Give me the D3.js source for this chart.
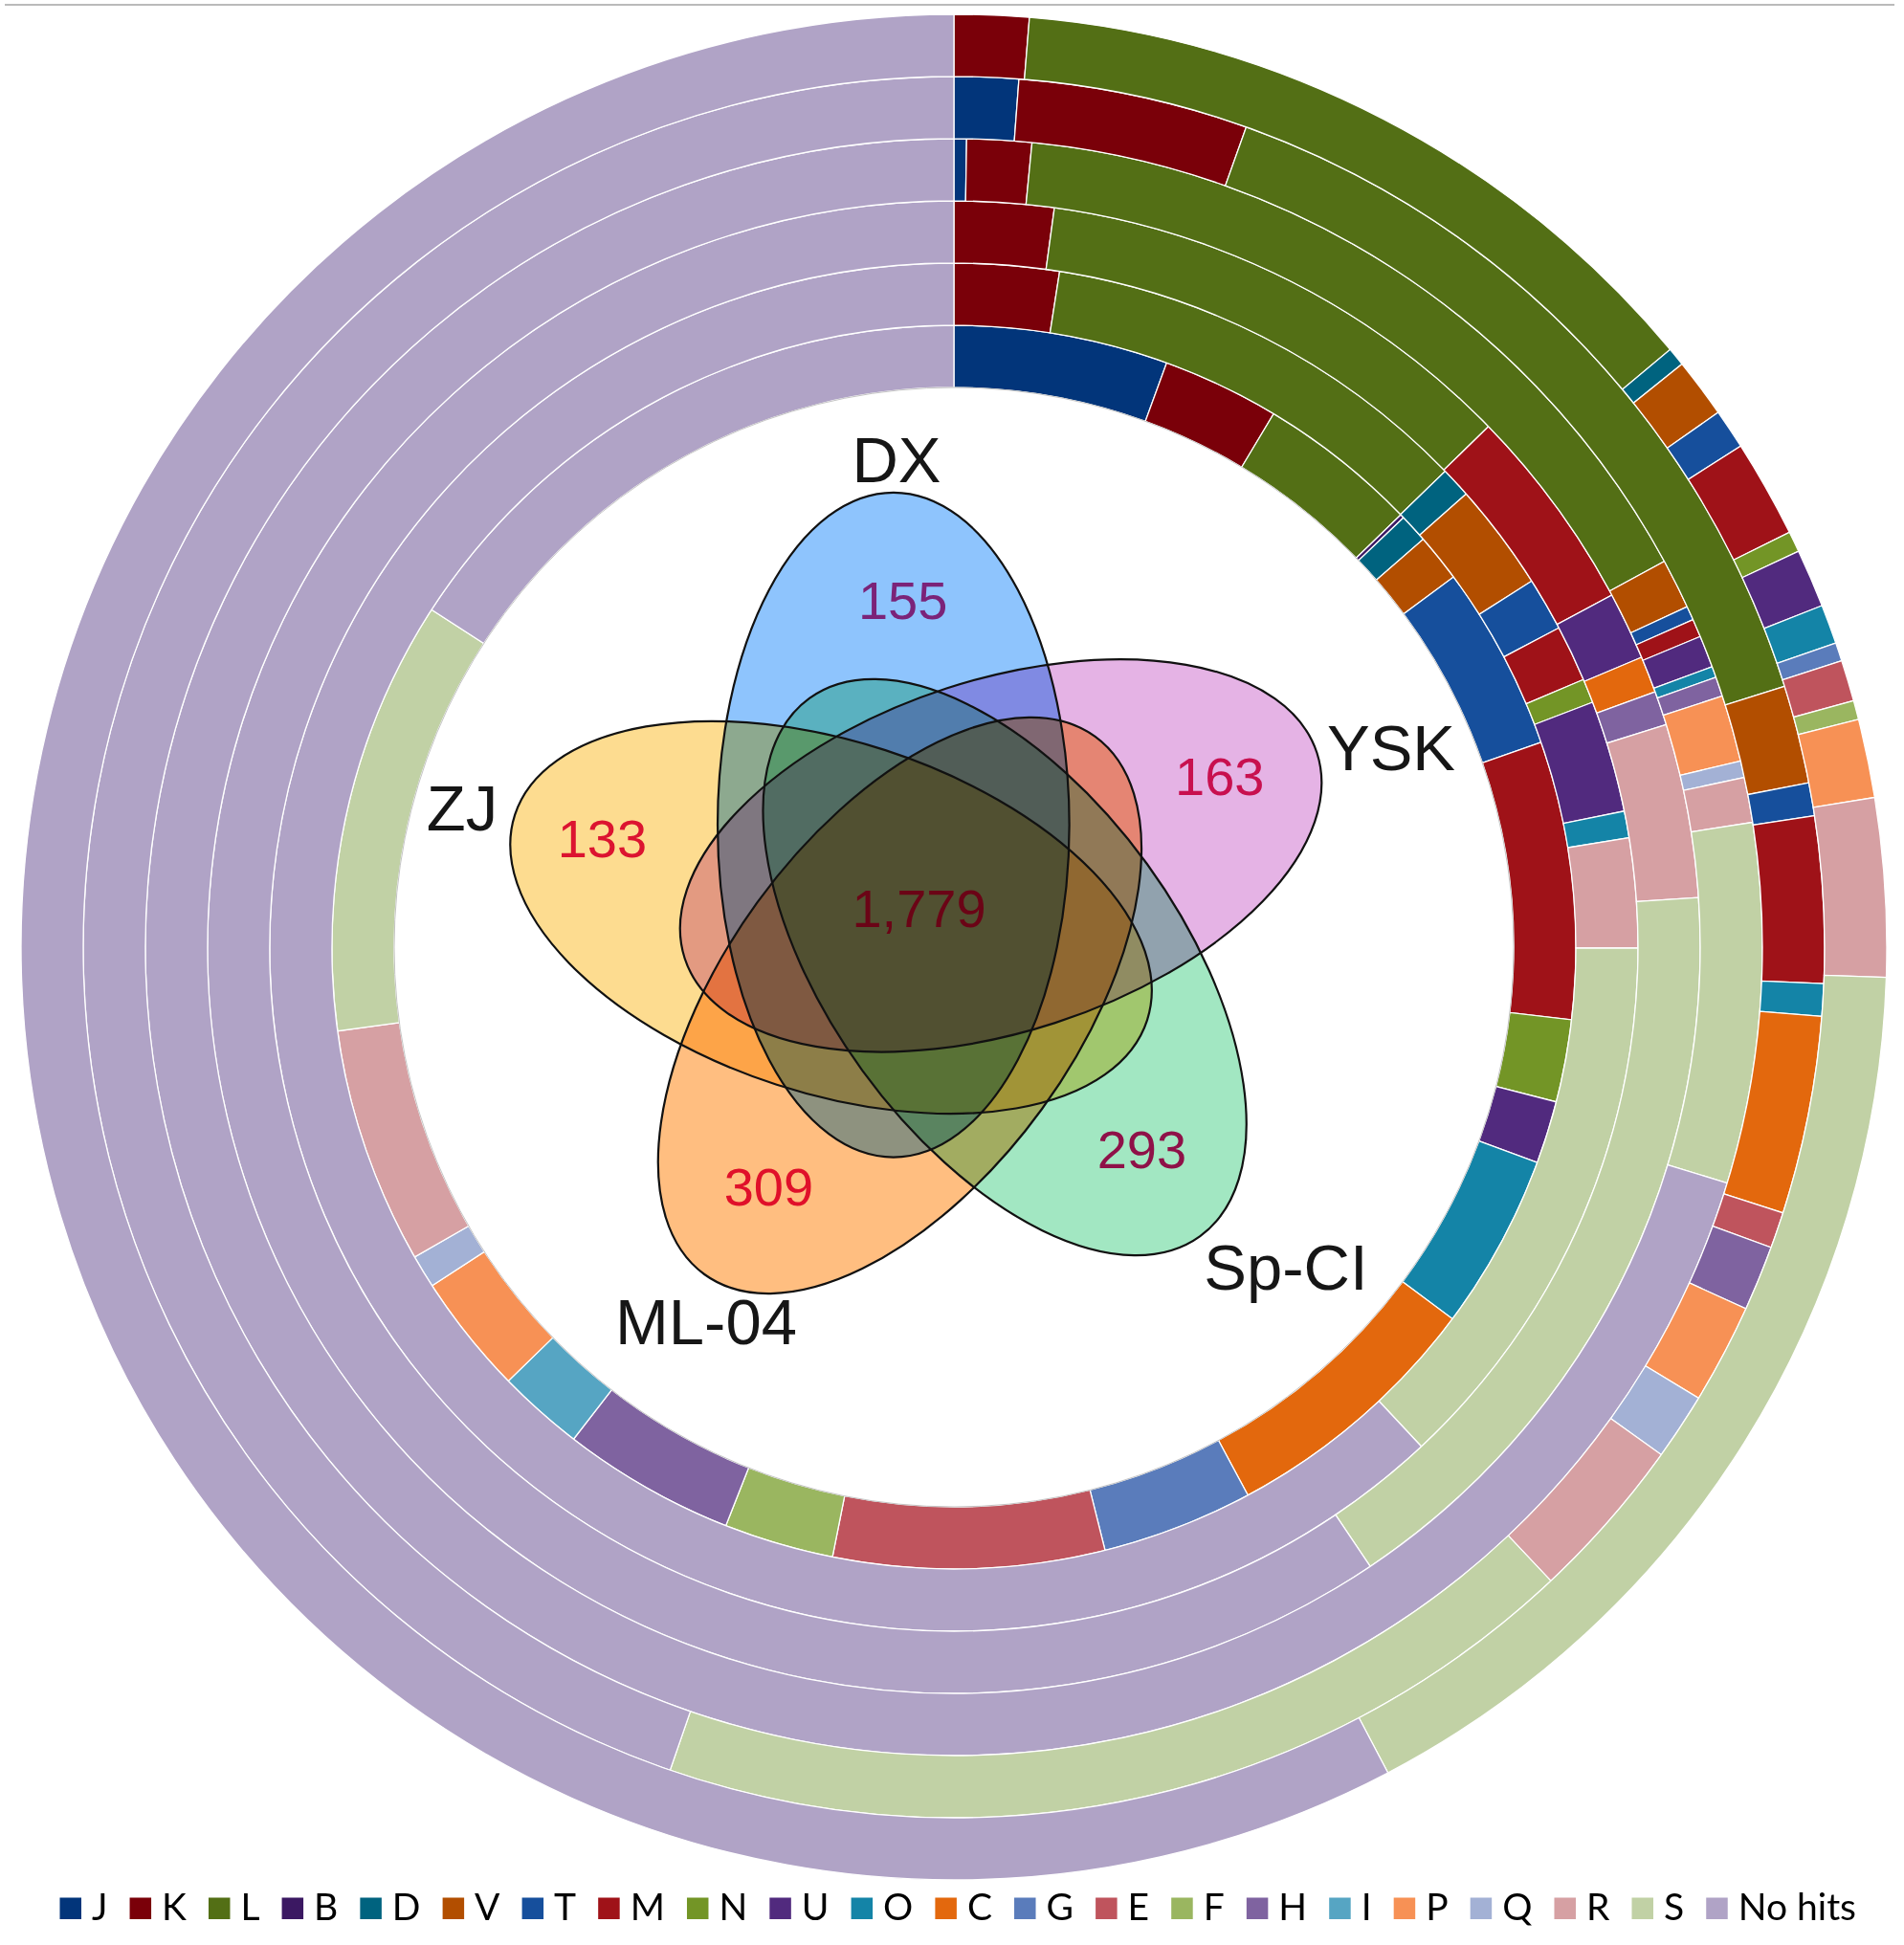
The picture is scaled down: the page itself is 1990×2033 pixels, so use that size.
<!DOCTYPE html>
<html>
<head>
<meta charset="utf-8">
<script src="https://cdn.jsdelivr.net/npm/d3@7"></script>
<style>
  body { margin: 0; background: #fff; }
  svg { display: block; }
</style>
</head>
<body>
<script>
// COG classes, in legend order
const categories = ["J","K","L","B","D","V","T","M","N","U","O","C","G","E","F","H","I","P","Q","R","S","No hits"];
const palette = ["#02357a","#7a0009","#536f15","#3b1862","#00637f","#b24e00","#164f9c","#9f1218",
                 "#739526","#512a7e","#1484a7","#e3680d","#5a7cbb","#bf545d","#9ab660","#7f63a0",
                 "#56a5c3","#f79155","#a3b1d5","#d6a0a3","#c1d1a5","#b0a3c6"];

// share of genes (%) per class, one array per ring, inner ring first
const ring1 = [5.56,3.04,4.17,0.10,0.75,1.24,4.81,7.21,2.14,1.63,4.57,6.97,3.93,7.04,2.85,4.50,2.24,3.13,0.86,6.15,11.29,15.88];
const ring2 = [0,2.47,10.28,0,0.72,2.54,1.26,1.33,0.57,2.64,0.63,0,0,0,0,0,0,0,0,2.58,13.00,61.97];
const ring3 = [0,2.15,10.56,0,0,0,0,4.47,0,1.47,0,0.79,0,0,0,0.74,0,0,0,3.76,16.64,59.42];
const ring4 = [0.25,1.29,15.54,0,0,1.00,0.28,0.36,0,0.64,0.22,0,0,0,0,0.39,0,1.33,0.33,0.90,7.18,70.28];
const ring5 = [1.19,4.26,14.71,0,0,1.82,0.61,3.08,0,0,0.60,3.67,0,0.67,0,1.21,0,1.85,1.24,3.07,17.31,44.72];
const ring6 = [0,1.29,12.64,0,0.32,1.03,0.69,1.69,0.36,1.01,0.68,0,0.32,0.71,0.33,0,0,1.36,0,3.08,16.78,57.69];
const rings = [ring1, ring2, ring3, ring4, ring5, ring6];

// Venn sets, clockwise from the top
const sets = ["DX","YSK","Sp-CI","ML-04","ZJ"];
const setColors = ["#8ec4fd","#e5b3e5","#a2e7c2","#ffbe80","#fddc90"];
const uniqueCounts = [155,163,293,309,133];
const uniqueColors = ["#7b2378","#c8104f","#8f1148","#e0102a","#dc1430"];
const coreCount = 1779;

const W = 1990, H = 2033;
const cx = 997, cy = 990;

const svg = d3.select("body").append("svg")
  .attr("width", W).attr("height", H);

// thin rule at the very top
svg.append("line")
  .attr("x1", 5).attr("x2", 1980).attr("y1", 5).attr("y2", 5)
  .attr("stroke", "#a3a3a3").attr("stroke-width", 1.5);

const color = d3.scaleOrdinal().domain(categories).range(palette);
const rScale = d3.scaleLinear().domain([0, rings.length]).range([585, 975]);
const pie = d3.pie().sort(null).value(d => d.v);

// rings
const donut = svg.append("g").attr("transform", `translate(${cx},${cy})`);
rings.forEach((vals, i) => {
  let arc = d3.arc().innerRadius(rScale(i)).outerRadius(rScale(i + 1));
  let data = pie(categories.map((c, j) => ({c: c, v: vals[j]})).filter(d => d.v > 0));
  donut.append("g").attr("class", "ring")
    .selectAll("path").data(data).join("path")
    .attr("d", arc)
    .attr("fill", d => color(d.data.c))
    .attr("stroke", "#fff")
    .attr("stroke-width", 1.3);
});
// faint edge on the inside of the first ring
donut.append("circle")
  .attr("r", rScale(0))
  .attr("fill", "none")
  .attr("stroke", "#c4c4c4")
  .attr("stroke-width", 1);

// Venn diagram: five rotated ellipses
const venn = {x: 967.8, y: 955.5, dist: 99.3, a: 347.4, b: 183.8};
const ellipses = sets.map((s, i) => {
  let t = (-20 + 72 * i) * Math.PI / 180;
  return {
    name: s,
    x: venn.x + venn.dist * Math.sin(t),
    y: venn.y - venn.dist * Math.cos(t),
    rot: 72 * i,
    fill: setColors[i]
  };
});

const vg = svg.append("g").style("isolation", "isolate");
vg.selectAll("ellipse.fill").data(ellipses).join("ellipse")
  .attr("class", "fill")
  .attr("cx", d => d.x).attr("cy", d => d.y)
  .attr("rx", venn.b).attr("ry", venn.a)
  .attr("transform", d => `rotate(${d.rot},${d.x},${d.y})`)
  .style("fill", d => d.fill)
  .style("mix-blend-mode", "multiply");

svg.selectAll("ellipse.edge").data(ellipses).join("ellipse")
  .attr("class", "edge")
  .attr("cx", d => d.x).attr("cy", d => d.y)
  .attr("rx", venn.b).attr("ry", venn.a)
  .attr("transform", d => `rotate(${d.rot},${d.x},${d.y})`)
  .style("fill", "none")
  .style("stroke", "#111")
  .style("stroke-width", 2.2);

// label placement
const countPos = [[943.7, 627], [1274.8, 811], [1193.4, 1201], [803.4, 1240.4], [629.4, 875.6]];
const corePos = [960.5, 948.6];
const namePos = [[937, 504], [1454, 805], [1344, 1348], [738, 1405], [483, 868]];

const font = "'Liberation Sans', Arial, sans-serif";
svg.selectAll("text.count").data(uniqueCounts).join("text")
  .attr("class", "count")
  .attr("x", (d, i) => countPos[i][0])
  .attr("y", (d, i) => countPos[i][1] + 20)
  .attr("text-anchor", "middle")
  .style("font-family", font).style("font-size", "56px")
  .style("fill", (d, i) => uniqueColors[i])
  .text(d => d3.format(",")(d));

svg.append("text")
  .attr("x", corePos[0]).attr("y", corePos[1] + 20)
  .attr("text-anchor", "middle")
  .style("font-family", font).style("font-size", "56px")
  .style("fill", "#6b0416")
  .text(d3.format(",")(coreCount));

svg.selectAll("text.setname").data(sets).join("text")
  .attr("class", "setname")
  .attr("x", (d, i) => namePos[i][0])
  .attr("y", (d, i) => namePos[i][1])
  .attr("text-anchor", "middle")
  .style("font-family", font).style("font-size", "67px")
  .style("fill", "#161616")
  .text(d => d);

// legend along the bottom
const legend = svg.append("g").attr("class", "legend");
const box = 22.5, legY = 1983.5, legX0 = 62.5, legX1 = 1940;
let items = legend.selectAll("g").data(categories).join("g");
items.append("rect")
  .attr("width", box).attr("height", box)
  .attr("y", legY)
  .attr("fill", d => color(d));
items.append("text")
  .attr("y", legY + box + 1)
  .style("font-family", "Lato, 'Open Sans', sans-serif")
  .style("font-size", "39px")
  .style("fill", "#000")
  .text(d => d);

let widths = [];
items.select("text").each(function() { widths.push(this.getComputedTextLength()); });
let used = d3.sum(widths) + categories.length * (box + 11);
let gap = (legX1 - legX0 - used) / (categories.length - 1);
let x = legX0;
items.each(function(d, i) {
  let sel = d3.select(this);
  sel.select("rect").attr("x", x);
  sel.select("text").attr("x", x + box + 11);
  x += box + 11 + widths[i] + gap;
});
</script>
</body>
</html>
